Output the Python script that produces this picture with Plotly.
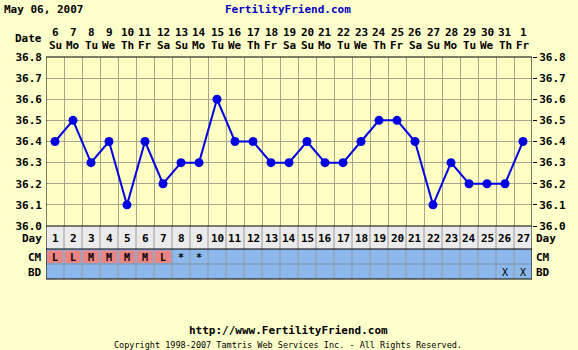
import plotly.graph_objects as go

# ---- data ----
cycle_days = list(range(1, 28))
dates = [6, 7, 8, 9, 10, 11, 12, 13, 14, 15, 16, 17, 18, 19, 20, 21, 22, 23, 24, 25,
         26, 27, 28, 29, 30, 31, 1]
weekdays = ["Su", "Mo", "Tu", "We", "Th", "Fr", "Sa"] * 3 + ["Su", "Mo", "Tu", "We", "Th", "Fr"]
temps = [36.4, 36.5, 36.3, 36.4, 36.1, 36.4, 36.2, 36.3, 36.3, 36.6, 36.4, 36.4, 36.3, 36.3,
         36.4, 36.3, 36.3, 36.4, 36.5, 36.5, 36.4, 36.1, 36.3, 36.2, 36.2, 36.2, 36.4]
cm = ["L", "L", "M", "M", "M", "M", "L", "*", "*"] + [""] * 18
bd = [""] * 25 + ["X", "X"]
temp_ticks = [36.0, 36.1, 36.2, 36.3, 36.4, 36.5, 36.6, 36.7, 36.8]
title_left = "May 06, 2007"
title_center = "FertilityFriend.com"
footer_url = "http://www.FertilityFriend.com"
footer_copy = "Copyright 1998-2007 Tamtris Web Services Inc. - All Rights Reserved."

# ---- layout constants ----
W, H = 578, 350
L, R, T, B = 46, 46, 57, 124
PH = H - T - B
PW = W - L - R
BOTTOM_PX = H - B
FONT = "DejaVu Sans Mono"
BG = "#FFFFCC"
GRID = "#A4A490"


def py(ypx):
    return (BOTTOM_PX - ypx) / PH


def px(xpx):
    return (xpx - L) / PW


fig = go.Figure()
fig.add_trace(go.Scatter(
    x=cycle_days, y=temps, mode="lines+markers",
    line=dict(color="#0000E0", width=2),
    marker=dict(color="#0000E0", size=9),
    hoverinfo="skip", showlegend=False, cliponaxis=False,
))
fig.add_trace(go.Scatter(x=cycle_days, y=temps, yaxis="y2", mode="none",
                         hoverinfo="skip", showlegend=False))

shapes = []
x0, x1 = 0.5, len(cycle_days) + 0.5
shapes.append(dict(type="rect", xref="x", yref="paper", x0=x0, x1=x1,
                   y0=py(249), y1=py(226), fillcolor="#EBEBEB", line_width=0, layer="below"))
shapes.append(dict(type="rect", xref="x", yref="paper", x0=x0, x1=x1,
                   y0=py(279), y1=py(249), fillcolor="#8CB8EC", line_width=0, layer="below"))
for d, c in zip(cycle_days, cm):
    if c in ("L", "M"):
        shapes.append(dict(type="rect", xref="x", yref="paper", x0=d - 0.44, x1=d + 0.44,
                           y0=py(263), y1=py(250.5), fillcolor="#EC8484", line_width=0))
for d in cycle_days[:-1]:
    shapes.append(dict(type="line", xref="x", yref="paper", x0=d + 0.5, x1=d + 0.5,
                       y0=py(279), y1=py(226), line=dict(color="#9A9A9A", width=1)))
for ypx, col in ((249, "#000000"), (264, "#7A8CA8"), (279, "#000000")):
    shapes.append(dict(type="line", xref="x", yref="paper", x0=x0, x1=x1,
                       y0=py(ypx), y1=py(ypx), line=dict(color=col, width=1)))
shapes.append(dict(type="rect", xref="x", yref="paper", x0=x0, x1=x1, y0=0, y1=1,
                   line=dict(color="#000000", width=1)))
for xv in (x0, x1):
    shapes.append(dict(type="line", xref="x", yref="paper", x0=xv, x1=xv,
                       y0=py(279), y1=0, line=dict(color="#000000", width=1)))

ann = []


def txt(x, y, s, xref="x", size=11, color="#000000", xanchor="center", bold=True):
    ann.append(dict(x=x, y=y, xref=xref, yref="paper", text=f"<b>{s}</b>" if bold else s,
                    showarrow=False, xanchor=xanchor, yanchor="middle",
                    font=dict(family=FONT, size=size, color=color)))


for d, dt, wd in zip(cycle_days, dates, weekdays):
    txt(d, py(33), str(dt))
    txt(d, py(45), wd)
    txt(d, py(238.5), str(d))
for d, c in zip(cycle_days, cm):
    if c:
        txt(d, py(257), c, size=10)
for d, b in zip(cycle_days, bd):
    if b:
        txt(d, py(272.5), b, size=10, bold=False)

txt(px(44), py(39), "Date", xref="paper", xanchor="right")
for lab, ypx in (("Day", 238.5), ("CM", 257), ("BD", 272.5)):
    txt(px(44), py(ypx), lab, xref="paper", xanchor="right")
    txt(px(534), py(ypx), lab, xref="paper", xanchor="left")
txt(px(2), py(10), title_left, xref="paper", xanchor="left")
txt(px(288), py(10), title_center, xref="paper", color="#0000C0")
txt(px(288), py(330.5), footer_url, xref="paper")
txt(px(288), py(345), footer_copy, xref="paper", size=8.5, bold=False)

fig.update_layout(
    width=W, height=H, margin=dict(l=L, r=R, t=T, b=B),
    paper_bgcolor=BG, plot_bgcolor="#FFFFC4",
    shapes=shapes, annotations=ann,
    xaxis=dict(range=[x0, x1], tickvals=[d + 0.5 for d in cycle_days[:-1]],
               showticklabels=False, showgrid=True, gridcolor=GRID, gridwidth=1,
               zeroline=False, showline=False, ticks="", fixedrange=True),
    yaxis=dict(range=[temp_ticks[0], temp_ticks[-1]], tickvals=temp_ticks, tickformat=".1f",
               showgrid=True, gridcolor=GRID, zeroline=False, showline=False,
               ticks="", ticklabelstandoff=3,
               tickfont=dict(family=FONT, size=11, color="#000000", weight="bold")),
    yaxis2=dict(range=[temp_ticks[0], temp_ticks[-1]], tickvals=temp_ticks, tickformat=".1f",
                overlaying="y", side="right", showgrid=False, zeroline=False,
                ticks="outside", ticklen=4, tickcolor="#000000",
                tickfont=dict(family=FONT, size=11, color="#000000", weight="bold")),
)

fig.write_html("out.html", config={"displayModeBar": False})
